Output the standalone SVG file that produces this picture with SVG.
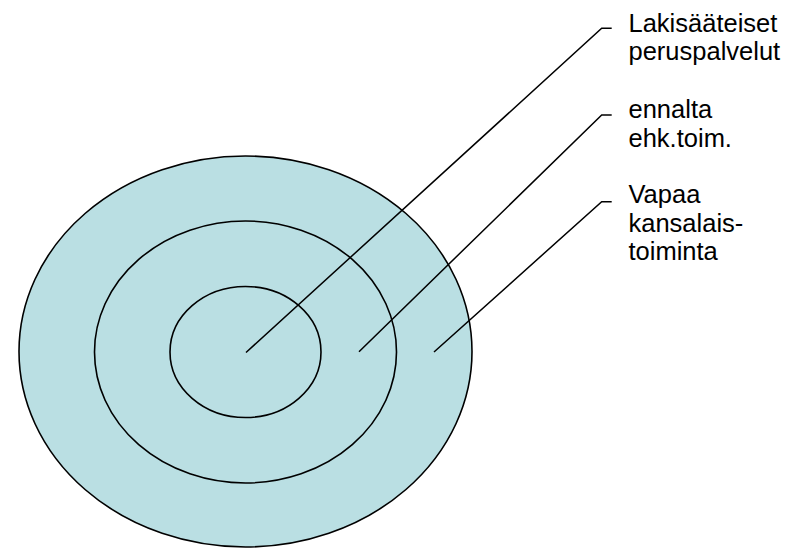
<svg xmlns="http://www.w3.org/2000/svg" width="800" height="548" viewBox="0 0 800 548">
<style>
.ring{fill:#BADFE3;stroke:#000;stroke-width:1.6}
.lead{fill:none;stroke:#000;stroke-width:1.5}
.lbl{font-family:"Liberation Sans",Arial,sans-serif;font-size:25.5px;fill:#000}
</style>
<rect width="800" height="548" fill="#fff"/>
<g id="outer"><ellipse class="ring" cx="245.5" cy="351.5" rx="226.5" ry="195.5"/></g>
<g id="middle"><ellipse class="ring" cx="245.5" cy="352" rx="151" ry="131"/></g>
<g id="inner"><ellipse class="ring" cx="245.5" cy="352" rx="75.5" ry="65.5"/></g>
<g id="connectors">
<polyline class="lead" points="246,352.5 601.7,28.3 611.7,28.3"/>
<polyline class="lead" points="359,351.7 601.7,115 611.7,115"/>
<polyline class="lead" points="434,352 601.7,201.7 611.7,201.7"/>
</g>
<g id="label1"><text class="lbl" x="628.5" y="31.7">Lakisääteiset</text><text class="lbl" x="628.5" y="60.2">peruspalvelut</text></g>
<g id="label2"><text class="lbl" x="628.5" y="117.7">ennalta</text><text class="lbl" x="628.5" y="146.7">ehk.toim.</text></g>
<g id="label3"><text class="lbl" x="628.5" y="203.3">Vapaa</text><text class="lbl" x="628.5" y="231.7">kansalais-</text><text class="lbl" x="628.5" y="260">toiminta</text></g>
</svg>
